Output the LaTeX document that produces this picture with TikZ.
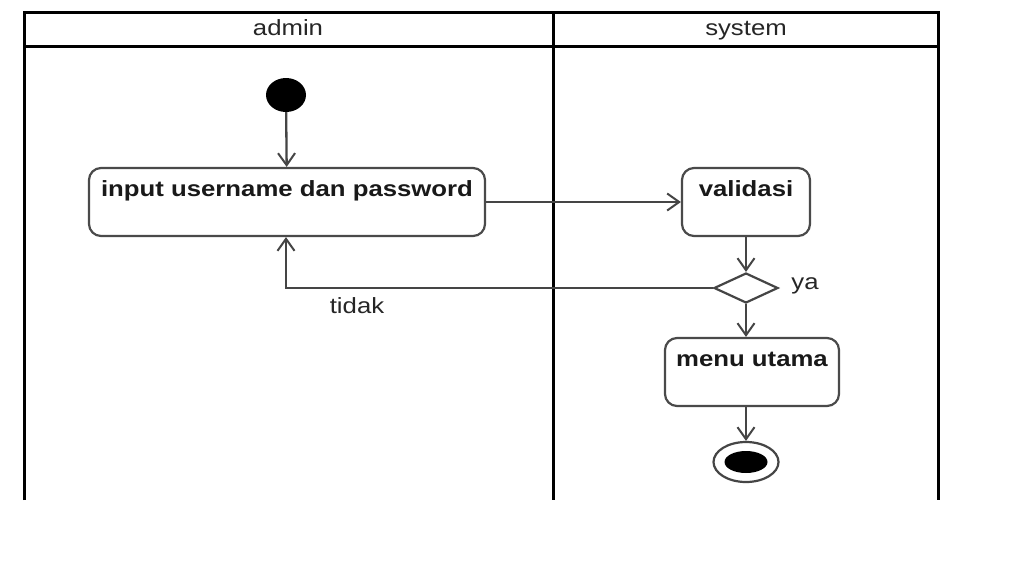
\documentclass[tikz,border=0pt]{standalone}
\usepackage{fontspec}
\setmainfont{Liberation Sans}[FakeStretch=1.17]
\usetikzlibrary{arrows.meta,shapes.geometric,calc}
\definecolor{linegray}{HTML}{454545}
\definecolor{boxgray}{HTML}{4A4A4A}
\tikzset{
  lane/.style={line width=3pt,black},
  actbox/.style={draw=boxgray,line width=2.2pt,fill=white,rounded corners=12pt,
    inner sep=0pt,text height=28pt,text depth=40pt,align=center,
    font=\fontsize{22}{25}\selectfont\bfseries,text=black!90},
  flow/.style={draw=linegray,line width=2.3pt,-{Straight Barb[length=12pt,width=17pt,line width=2pt]}},
  lanelabel/.style={anchor=base,font=\fontsize{22}{25}\selectfont,text=black!85},
  guard/.style={anchor=base,font=\fontsize{22}{25}\selectfont,text=black!85},
  startnode/.style={ellipse,fill=black,minimum width=40pt,minimum height=34pt,inner sep=0pt},
  decision/.style={diamond,draw=linegray,line width=2.2pt,fill=white,inner sep=0pt,
    minimum width=64pt,minimum height=30pt},
  endouter/.style={ellipse,draw=linegray,line width=2.2pt,fill=white,minimum width=65pt,minimum height=40pt,inner sep=0pt},
  endinner/.style={ellipse,fill=black,minimum width=43pt,minimum height=22pt,inner sep=0pt}
}
\begin{document}
\begin{tikzpicture}[x=1pt,y=-1pt]
\useasboundingbox[fill=white] (0,0) rectangle (1019,568);
% swimlanes
\draw[lane] (24,500) -- (24,12) -- (938,12) -- (938,500);
\draw[lane] (24,46) -- (938,46);
\draw[lane] (553,12) -- (553,500);
\node[lanelabel] (hadmin) at (288,35) {admin};
\node[lanelabel] (hsystem) at (746,35) {system};
% nodes
\node[startnode] (start) at (286,95) {};
\node[actbox,minimum width=396pt] (input) at (287,202) {input username dan password};
\node[actbox,minimum width=128pt] (valid) at (746,202) {validasi};
\node[decision] (dec) at (746,288) {};
\node[actbox,minimum width=174pt] (menu) at (752,372) {menu utama};
\node[endouter] (endo) at (746,462) {};
\node[endinner] (endi) at (746,462) {};
% labels
\node[guard] (lya) at (805,289) {ya};
\node[guard] (ltidak) at (357,313) {tidak};
% connectors
\draw[flow] (start) -- (input);
\draw[flow] (input) -- (valid);
\draw[flow] (valid) -- (dec);
\draw[flow] (dec) -- (dec.south |- menu.north);
\draw[flow] (dec.west) -| (input.south -| start);
\draw[flow] (menu.south -| endo) -- (endo);
\end{tikzpicture}
\end{document}
